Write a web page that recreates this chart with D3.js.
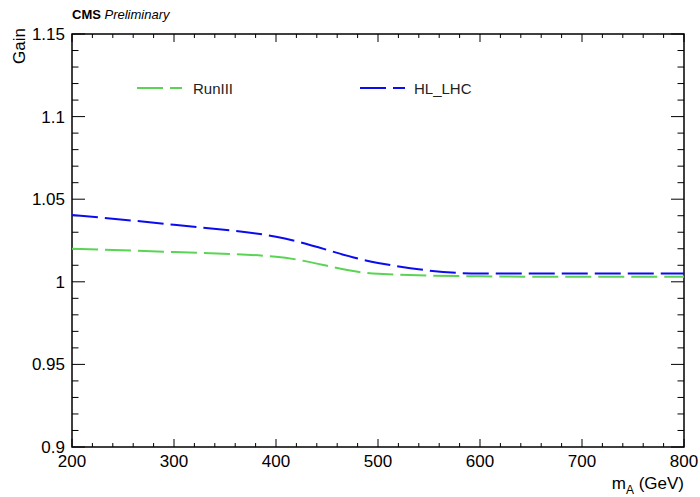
<!DOCTYPE html>
<html><head><meta charset="utf-8">
<script src="https://cdn.jsdelivr.net/npm/d3@7"></script>
<style>body{margin:0;background:#fff}text{font-family:"Liberation Sans",Arial,sans-serif}</style>
</head><body><svg id="c" width="700" height="497"></svg>
<script>
const massPoints = [200, 300, 400, 500, 600, 700, 800];
const runIII = [1.020, 1.018, 1.0152, 1.0048, 1.0033, 1.003, 1.003];
const hlLHC = [1.0405, 1.0345, 1.0273, 1.0114, 1.005, 1.005, 1.005];
const seriesNames = ["RunIII", "HL_LHC"];
const seriesColors = ["#5bd454", "#0b0bef"];
const xTicks = [200, 300, 400, 500, 600, 700, 800];
const yTicks = [0.9, 0.95, 1, 1.05, 1.1, 1.15];

const svg = d3.select("#c");
const L = 72, R = 684, T = 34, B = 447;
const x = d3.scaleLinear().domain([200, 800]).range([L, R]);
const y = d3.scaleLinear().domain([0.9, 1.15]).range([B, T]);

// frame
svg.append("rect").attr("x", L).attr("y", T).attr("width", R - L).attr("height", B - T)
  .attr("fill", "none").attr("stroke", "#000").attr("stroke-width", 1.5);

// x ticks
const xMinor = d3.range(200, 801, 20);
xMinor.forEach(v => {
  const major = v % 100 === 0;
  const len = major ? 8 : 4;
  svg.append("line").attr("x1", x(v)).attr("x2", x(v)).attr("y1", B).attr("y2", B - len).attr("stroke", "#000");
  svg.append("line").attr("x1", x(v)).attr("x2", x(v)).attr("y1", T).attr("y2", T + len).attr("stroke", "#000");
});
// y ticks
const yMinor = d3.range(0, 26).map(i => 0.9 + i * 0.01);
yMinor.forEach((v, i) => {
  const major = i % 5 === 0;
  const len = major ? 13 : 6.5;
  svg.append("line").attr("x1", L).attr("x2", L + len).attr("y1", y(v)).attr("y2", y(v)).attr("stroke", "#000");
  svg.append("line").attr("x1", R).attr("x2", R - len).attr("y1", y(v)).attr("y2", y(v)).attr("stroke", "#000");
});

// labels
svg.selectAll(".xl").data(xTicks).enter().append("text")
  .attr("x", d => x(d)).attr("y", 467).attr("text-anchor", "middle")
  .attr("font-size", 17).text(d => d);
svg.selectAll(".yl").data(yTicks).enter().append("text")
  .attr("x", 65).attr("y", d => y(d) + 6).attr("text-anchor", "end")
  .attr("font-size", 17).text(d => d === 1 ? "1" : d3.format("")(d));

// axis titles
const xt = svg.append("text").attr("x", R).attr("y", 489).attr("text-anchor", "end").attr("font-size", 17);
xt.append("tspan").text("m");
xt.append("tspan").attr("font-size", 12).attr("dy", 5).text("A");
xt.append("tspan").attr("dy", -5).text(" (GeV)");
svg.append("text").attr("transform", "translate(25,28) rotate(-90)").attr("text-anchor", "end")
  .attr("font-size", 17).text("Gain");

// CMS label
const cms = svg.append("text").attr("x", 72).attr("y", 19).attr("font-size", 13);
cms.append("tspan").attr("font-weight", "bold").text("CMS");
cms.append("tspan").attr("font-style", "italic").text(" Preliminary");

// lines
const line = d3.line().x((d, i) => x(massPoints[i])).y(d => y(d)).curve(d3.curveMonotoneX);
[runIII, hlLHC].forEach((s, k) => {
  svg.append("path").attr("d", line(s)).attr("fill", "none")
    .attr("stroke", seriesColors[k]).attr("stroke-width", 2).attr("stroke-dasharray", "26,7");
});

// legend
const legX = [137, 360], legTextX = [193, 414];
seriesNames.forEach((n, k) => {
  svg.append("line").attr("x1", legX[k]).attr("x2", legX[k] + 45).attr("y1", 88).attr("y2", 88)
    .attr("stroke", seriesColors[k]).attr("stroke-width", 2).attr("stroke-dasharray", "26,7");
  svg.append("text").attr("x", legTextX[k]).attr("y", 94).attr("font-size", 15).attr("fill", "#222").text(n);
});
</script></body></html>
